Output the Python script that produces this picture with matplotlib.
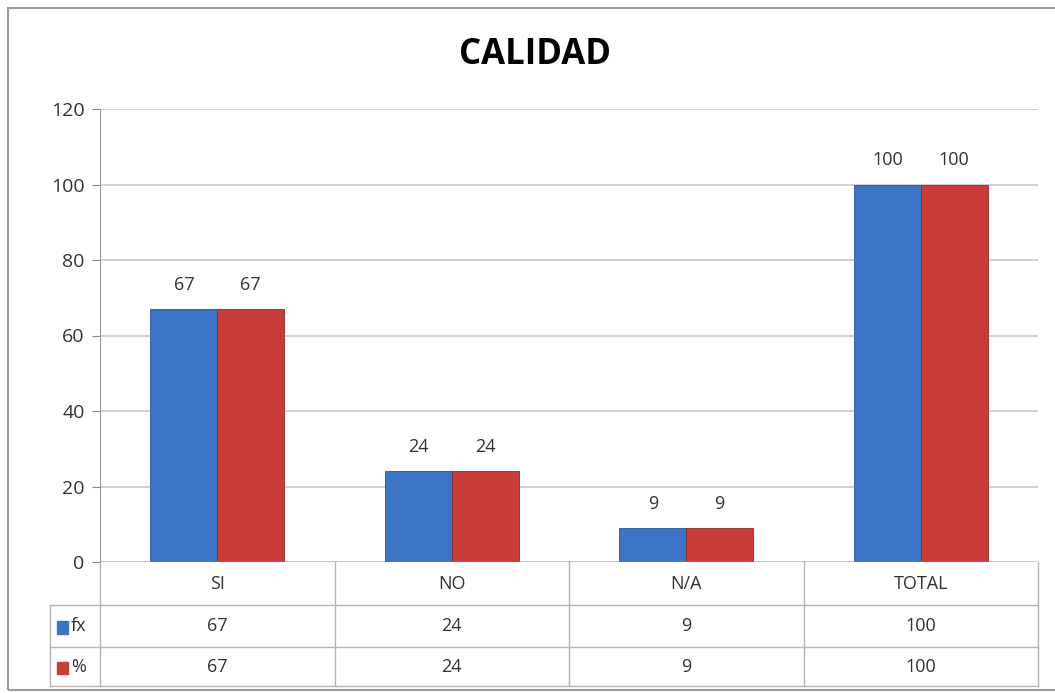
import matplotlib
matplotlib.use('Agg')
from matplotlib import pyplot as plt
from matplotlib.patches import Rectangle

categories = ['SI', 'NO', 'N/A', 'TOTAL']
fx = [67, 24, 9, 100]
pct = [67, 24, 9, 100]
series_names = ['fx', '%']
blue = '#3b74c4'
red = '#c83c3a'

plt.rcParams['font.family'] = ['Open Sans', 'DejaVu Sans']

W, H = 1055, 693
fig = plt.figure(figsize=(W / 100, H / 100), dpi=100)

# pixel helpers
def fx_(x):
    return x / W

def fy_(y):
    return 1 - y / H

ax = fig.add_axes([fx_(100), fy_(562), fx_(1038) - fx_(100), fy_(109) - fy_(562)])

# outer frame
fig.patches.append(Rectangle((fx_(8), fy_(690)), 1.2, fy_(8) - fy_(690),
                             transform=fig.transFigure, fill=False,
                             edgecolor='#9a9a9a', linewidth=1.5))

x = range(len(categories))
w = 0.285
ax.bar([i - w / 2 for i in x], fx, width=w, color=blue, edgecolor='#2a5590', linewidth=0.6, zorder=3)
ax.bar([i + w / 2 for i in x], pct, width=w, color=red, edgecolor='#8e2a28', linewidth=0.6, zorder=3)

for i in x:
    ax.text(i - w / 2, fx[i] + 4, str(fx[i]), ha='center', va='bottom', fontsize=13, color='#333333')
    ax.text(i + w / 2, pct[i] + 4, str(pct[i]), ha='center', va='bottom', fontsize=13, color='#333333')

ax.set_xlim(-0.5, len(categories) - 0.5)
ax.set_ylim(0, 120)
ax.set_yticks(range(0, 121, 20))
ax.tick_params(axis='y', labelsize=14, colors='#333333', length=6, width=0.8, color='#888888', pad=5)
ax.set_xticks([])
ax.grid(axis='y', color='#c8c8c8', linewidth=1.2, zorder=0)
for s in ['top', 'right', 'bottom']:
    ax.spines[s].set_visible(False)
ax.spines['left'].set_color('#9a9a9a')
ax.axhline(0, color='#9a9a9a', linewidth=1, zorder=4)

fig.text(fx_(535), fy_(55), 'CALIDAD', ha='center', va='center', fontsize=25, fontweight='bold')

# data table under the chart
tc = '#b4b4b4'
rows_y = [562, 605, 647, 686]
cw = (1038 - 100) / len(categories)
for y in rows_y[1:]:
    fig.add_artist(plt.Line2D([fx_(50), fx_(1038)], [fy_(y), fy_(y)], color=tc, linewidth=1))
fig.add_artist(plt.Line2D([fx_(50), fx_(50)], [fy_(605), fy_(686)], color=tc, linewidth=1))
for k in range(len(categories) + 1):
    xp = 100 + k * cw
    fig.add_artist(plt.Line2D([fx_(xp), fx_(xp)], [fy_(562), fy_(686)], color=tc, linewidth=1))

table_rows = [fx, pct]
for k, c in enumerate(categories):
    xc = fx_(100 + k * cw + cw / 2)
    fig.text(xc, fy_(584), c, ha='center', va='center', fontsize=13, color='#333333')
    for r, vals in enumerate(table_rows):
        yc = fy_((rows_y[r + 1] + rows_y[r + 2]) / 2)
        fig.text(xc, yc, str(vals[k]), ha='center', va='center', fontsize=13, color='#333333')

for r, (name, col) in enumerate(zip(series_names, [blue, red])):
    yc = fy_((rows_y[r + 1] + rows_y[r + 2]) / 2)
    fig.patches.append(Rectangle((fx_(57), yc - 0.011), fx_(11), 0.018,
                                 transform=fig.transFigure, color=col))
    fig.text(fx_(71), yc, name, ha='left', va='center', fontsize=13, color='#333333')

plt.savefig('out.png', dpi=100)
